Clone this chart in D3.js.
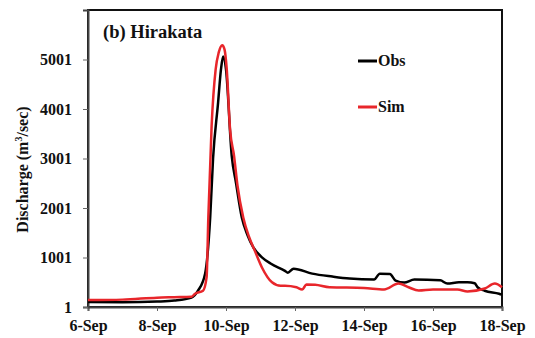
<!DOCTYPE html>
<html>
<head>
<meta charset="utf-8">
<script src="https://cdn.jsdelivr.net/npm/d3@7"></script>
<style>
  body { margin: 0; background: #fff; }
  svg { font-family: "Liberation Serif", "Times New Roman", serif; font-weight: bold; }
</style>
</head>
<body>
<svg id="chart"></svg>
<script>
// hours since 6-Sep 00:00 and discharge (m3/sec)
const obsHours = [0, 24, 48, 60, 72, 76.5, 81.5, 85, 87, 90.5, 92.5, 94, 96, 100, 103, 107, 111, 115, 121, 127, 137, 139, 143, 156, 170, 182, 199, 203, 210, 214, 220, 227, 245, 250, 258, 264, 269, 271, 276, 286, 288];
const obsQ = [100, 95, 110, 130, 190, 330, 680, 1810, 3000, 4130, 4800, 5060, 4800, 3050, 2500, 1810, 1450, 1205, 1005, 880, 730, 695, 775, 675, 615, 575, 555, 675, 670, 535, 495, 555, 540, 475, 500, 500, 480, 400, 330, 270, 250];

const simHours = [0, 24, 48, 60, 72, 74.5, 80, 82.5, 83.7, 86, 88.8, 91, 93.4, 95, 96.5, 98.8, 101.6, 104, 108, 112, 116, 121, 128, 134, 137, 145, 149, 152, 158, 168, 192, 206, 216, 223, 230, 240, 257, 264, 276, 283, 288];
const simQ = [140, 150, 190, 200, 210, 270, 330, 600, 1810, 3660, 4800, 5150, 5290, 5200, 4810, 3600, 3055, 2450, 1810, 1420, 1140, 800, 500, 430, 430, 400, 355, 455, 450, 400, 385, 355, 475, 400, 335, 355, 355, 315, 375, 475, 400];

const yTicks = [1, 1001, 2001, 3001, 4001, 5001];
const startDate = new Date(2013, 8, 6);
const endDate = new Date(2013, 8, 18);

const config = {
    width: 535,
    height: 338,
    margin: { top: 10, right: 33, bottom: 31, left: 88 }
};
const w = config.width - config.margin.left - config.margin.right;
const h = config.height - config.margin.top - config.margin.bottom;

const svg = d3.select('#chart')
    .attr('width', config.width)
    .attr('height', config.height);
const chart = svg.append('g')
    .attr('transform', `translate(${config.margin.left},${config.margin.top})`);

const toDate = hr => new Date(startDate.getTime() + hr * 3600 * 1000);

const xScale = d3.scaleTime().domain([startDate, endDate]).range([0, w]);
const yScale = d3.scaleLinear().domain([1, 6001]).range([h, 0]);

// frame (top + right)
chart.append('rect')
    .attr('width', w).attr('height', h)
    .attr('fill', 'none')
    .attr('stroke', '#111')
    .attr('stroke-width', 2);

const xAxis = d3.axisBottom(xScale)
    .tickValues(d3.timeDay.range(startDate, d3.timeDay.offset(endDate, 1), 2))
    .tickFormat(d3.timeFormat('%-d-%b'))
    .tickSize(4)
    .tickPadding(9);
const yAxis = d3.axisLeft(yScale)
    .tickValues(yTicks)
    .tickFormat(d3.format('d'))
    .tickSize(5)
    .tickPadding(11);

const xg = chart.append('g')
    .attr('transform', `translate(0,${h})`)
    .call(xAxis);
const yg = chart.append('g').call(yAxis);

[xg, yg].forEach(g => {
    g.attr('font-family', null).attr('font-size', null)
        .style('font-family', '"Liberation Serif", serif')
        .style('font-size', '16px')
        .style('font-weight', 'bold');
    g.select('.domain').attr('stroke', '#444').attr('stroke-width', 2);
    g.selectAll('.tick line').attr('stroke', '#666').attr('stroke-width', 1);
    g.selectAll('.tick text').attr('fill', '#111');
});

const line = d3.line()
    .x(d => xScale(toDate(d[0])))
    .y(d => yScale(d[1]))
    .curve(d3.curveMonotoneX);

const obsData = obsHours.map((t, i) => [t, obsQ[i]]);
const simData = simHours.map((t, i) => [t, simQ[i]]);

chart.append('path')
    .datum(obsData)
    .attr('fill', 'none')
    .attr('stroke', '#000')
    .attr('stroke-width', 2.5)
    .attr('d', line);

chart.append('path')
    .datum(simData)
    .attr('fill', 'none')
    .attr('stroke', '#e8262b')
    .attr('stroke-width', 2.5)
    .attr('d', line);

// title
chart.append('text')
    .attr('x', 15).attr('y', 28)
    .style('font-size', '18.5px')
    .attr('fill', '#111')
    .text('(b) Hirakata');

// legend
const legend = [
    { name: 'Obs', color: '#000', y: 51 },
    { name: 'Sim', color: '#e8262b', y: 97 }
];
legend.forEach(l => {
    chart.append('line')
        .attr('x1', 270).attr('x2', 289)
        .attr('y1', l.y).attr('y2', l.y)
        .attr('stroke', l.color).attr('stroke-width', 3);
    chart.append('text')
        .attr('x', 290).attr('y', l.y + 5)
        .style('font-size', '16px')
        .attr('fill', '#111')
        .text(l.name);
});

// y label
svg.append('text')
    .attr('transform', `translate(28,${config.margin.top + h / 2 + 11}) rotate(-90)`)
    .attr('text-anchor', 'middle')
    .style('font-size', '16px')
    .attr('fill', '#111')
    .html('Discharge (m<tspan dy="-6" font-size="10px">3</tspan><tspan dy="6">/sec)</tspan>');
</script>
</body>
</html>
